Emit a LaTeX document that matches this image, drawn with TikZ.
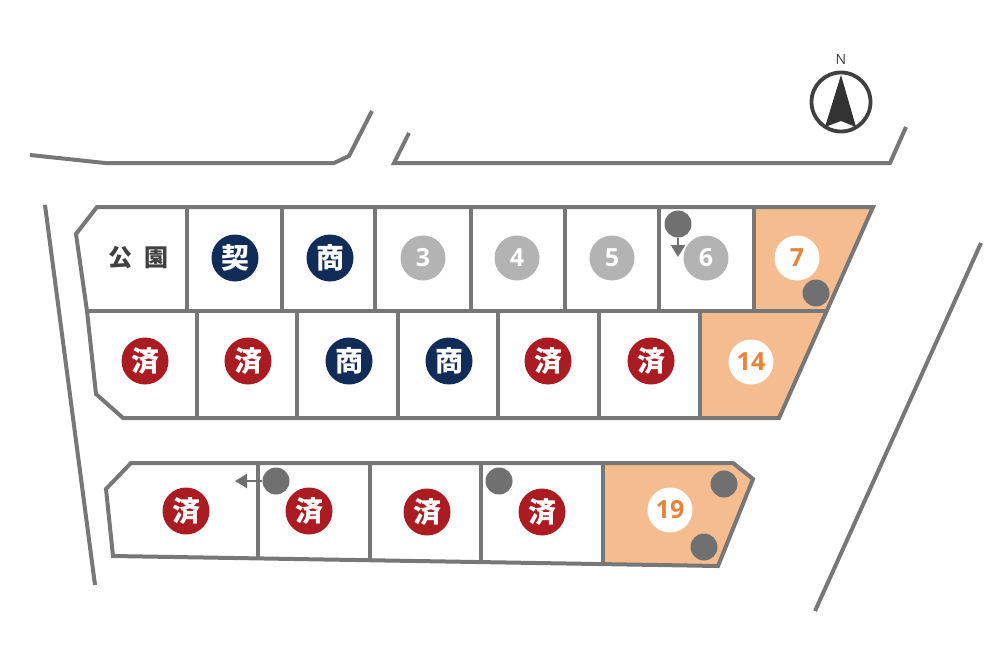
\documentclass[tikz,border=0pt]{standalone}
\usepackage{fontspec}
\usepackage{tikz}
\usetikzlibrary{arrows.meta}
\newfontfamily\cjk{Noto Sans CJK JP}
\newfontfamily\numfont{Open Sans}
\definecolor{linegrey}{HTML}{777777}
\definecolor{dotgrey}{HTML}{707070}
\definecolor{softgrey}{HTML}{B3B3B3}
\definecolor{navylot}{HTML}{122C5A}
\definecolor{redlot}{HTML}{AB1C22}
\definecolor{orangelot}{HTML}{F5BD8F}
\definecolor{orangenum}{HTML}{E8833A}
\tikzset{
  road/.style={draw=linegrey,line width=4pt},
  lotline/.style={draw=linegrey,line width=4pt},
  badge/.style={shape=circle,inner sep=0pt,minimum size=47pt,text=white,font=\cjk\bfseries\fontsize{28}{28}\selectfont},
  numbadge/.style={shape=circle,inner sep=0pt,minimum size=45pt,font=\numfont\bfseries\fontsize{25}{25}\selectfont},
  poledot/.style={shape=circle,inner sep=0pt,minimum size=27pt,fill=dotgrey},
  polearrow/.style={draw=dotgrey,line width=2.4pt,-{Triangle[width=14pt,length=12pt]}}
}
\newcommand{\lotfill}[1]{\fill[orangelot] #1 -- cycle;}
\newcommand{\lotsep}[4]{\draw[lotline] ( #1 , #2 ) -- ( #3 , #4 );}
\newcommand{\soldmark}[3]{\node[badge,fill=redlot] (#1) at ( #2 , #3 ) {済};}
\newcommand{\talkmark}[3]{\node[badge,fill=navylot] (#1) at ( #2 , #3 ) {商};}
\newcommand{\freemark}[4]{\node[numbadge,fill=softgrey,text=white] (#1) at ( #2 , #3 ) {#4};}
\newcommand{\salemark}[4]{\node[numbadge,fill=white,text=orangenum] (#1) at ( #2 , #3 ) {#4};}
\begin{document}
\begin{tikzpicture}[x=1pt,y=-1pt]
        \useasboundingbox (0,0) rectangle (1000,666);
        % roads
        \draw[road] (30,155) -- (105,163) -- (334,163) -- (349,156) -- (372,111);
        \draw[road] (409,133) -- (394,163) -- (890,163) -- (906,127);
        \draw[road] (45,205) -- (95,585);
        \draw[road] (981,243) -- (815,611);

        % orange lots
        \lotfill{(754,207) -- (873,207) -- (827,311) -- (754,311)}
        \lotfill{(700,311) -- (827,311) -- (779,418) -- (700,418)}
        \lotfill{(603,463) -- (733,463) -- (753,479) -- (718,566) -- (603,564.5)}

        % row1
        \lotsep{187}{207}{187}{311}
        \lotsep{282}{207}{282}{311}
        \lotsep{375}{207}{375}{311}
        \lotsep{471}{207}{471}{311}
        \lotsep{565}{207}{565}{311}
        \lotsep{659}{207}{659}{311}
        \lotsep{754}{207}{754}{311}
        \lotsep{87}{311}{827}{311}
        % row2
        \lotsep{197}{311}{197}{418}
        \lotsep{297}{311}{297}{418}
        \lotsep{398}{311}{398}{418}
        \lotsep{498}{311}{498}{418}
        \lotsep{599}{311}{599}{418}
        \lotsep{700}{311}{700}{418}
        % row3
        \lotsep{258}{463}{258}{558}
        \lotsep{370}{463}{370}{560}
        \lotsep{481}{463}{481}{562}
        \lotsep{603}{463}{603}{564.5}

        % outlines
        \draw[lotline] (97,207) -- (873,207) -- (779,418) -- (123,418) -- (96,394) -- (87,311) -- (76,234) -- cycle;
        \draw[lotline] (131,463) -- (733,463) -- (753,479) -- (718,566) -- (113,556) -- (106,489) -- cycle;

        % labels for row1
        \node[text=black!75,font=\cjk\bfseries\fontsize{24}{24}\selectfont] (park) at (138,258) {公\hspace{12pt}園};
        \node[badge,fill=navylot] (lot1) at (235,258) {契};
        \talkmark{lot2}{330}{258}
        \freemark{lot3}{423}{258}{3}
        \freemark{lot4}{517}{258}{4}
        \freemark{lot5}{612}{258}{5}
        \freemark{lot6}{706}{258}{6}
        \salemark{lot7}{797}{258}{7}
        % labels for row2
        \soldmark{lot8}{145}{361}
        \soldmark{lot9}{248}{361}
        \talkmark{lot10}{349}{361}
        \talkmark{lot11}{449}{361}
        \soldmark{lot12}{548}{361}
        \soldmark{lot13}{651}{361}
        \salemark{lot14}{751}{362}{14}
        % labels for row3
        \soldmark{lot15}{186}{511}
        \soldmark{lot16}{309}{511}
        \soldmark{lot17}{427}{512}
        \soldmark{lot18}{542}{512}
        \salemark{lot19}{670}{510}{19}

        % poles
        \node[poledot] (poleA) at (678,224) {};
        \node[poledot] (poleB) at (816,293) {};
        \node[poledot] (poleC) at (276,481) {};
        \node[poledot] (poleD) at (499,481) {};
        \node[poledot] (poleE) at (724,484) {};
        \node[poledot] (poleF) at (704,547) {};
        \coordinate (tipA) at (678,257);
        \coordinate (tipC) at (235,481);
        \draw[polearrow] (poleA) -- (tipA);
        \draw[polearrow] (poleC) -- (tipC);

        % north
        \node[shape=circle,draw=black!75,line width=3.8pt,fill=none,inner sep=0pt,minimum size=59pt] (compass) at (841,102) {};
        \fill[black!80] (841,75) -- (856,127) -- (841,121) -- (825,127) -- cycle;
        \node[text=black!75,font=\numfont\fontsize{14}{14}\selectfont] (north) at (841,60) {N};
\end{tikzpicture}
\end{document}
